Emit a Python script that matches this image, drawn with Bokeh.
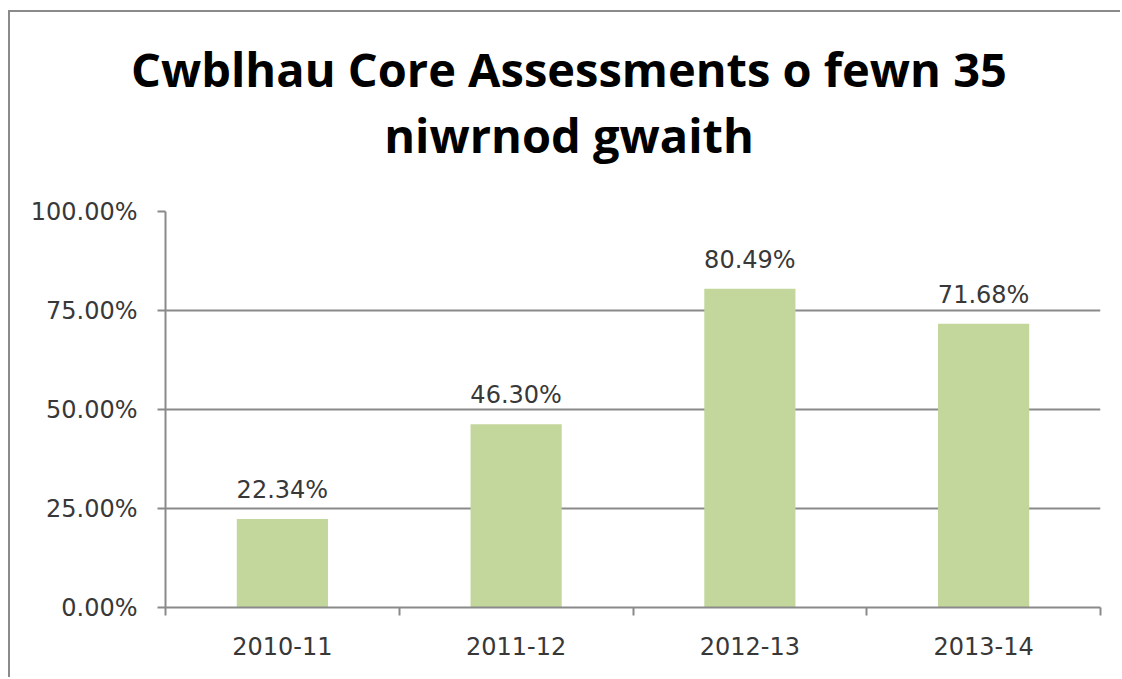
from bokeh.plotting import figure
from bokeh.models import Range1d, FixedTicker, PrintfTickFormatter, ColumnDataSource, Div
from bokeh.layouts import column
from bokeh.core.properties import value
from bokeh.embed import file_html
from bokeh.resources import INLINE
import numpy as np

categories = ["2010-11", "2011-12", "2012-13", "2013-14"]
values = [22.34, 46.30, 80.49, 71.68]
y_ticks = [0, 25, 50, 75, 100]
title_lines = ["Cwblhau Core Assessments o fewn 35", "niwrnod gwaith"]

GRAY = "#8a8a8a"
TXT = "#383838"
W = 1110
TH = 179   # title area height
PH = 486   # plot area height

# ---- title (HTML text, centred on the whole chart) ----
title = Div(
    text=('<div style="font-family:\'Open Sans\';font-weight:bold;font-size:47px;'
          'line-height:66px;text-align:center;color:black;padding-top:24px;padding-left:8px;'
          'width:%dpx;box-sizing:border-box;white-space:nowrap;">' % W
          + "<br>".join(title_lines) + "</div>"),
    width=W, height=TH, margin=0)

# ---- bar chart ----
xs = np.arange(len(categories)) + 0.5
bounds = list(np.arange(len(categories) + 1).astype(float))
src = ColumnDataSource(dict(x=xs, top=values, lab=["%.2f%%" % v for v in values]))

p = figure(width=W, height=PH, output_backend="svg", toolbar_location=None,
           x_range=Range1d(0, len(categories)), y_range=Range1d(0, 100),
           min_border_left=155, min_border_right=20, min_border_top=20, min_border_bottom=70)
p.outline_line_color = None
p.margin = 0

p.vbar(x="x", top="top", width=0.39, source=src, fill_color="#c3d69b", line_color=None)
p.text(x="x", y="top", text="lab", source=src, text_align="center", text_baseline="alphabetic",
       y_offset=-29, text_font=value("DejaVu Sans"), text_font_size="24px", text_color=TXT)

p.xgrid.visible = False
p.ygrid.grid_line_color = GRAY
p.ygrid.grid_line_width = 2
p.ygrid.ticker = FixedTicker(ticks=y_ticks)

ya = p.yaxis[0]
ya.ticker = FixedTicker(ticks=y_ticks)
ya.formatter = PrintfTickFormatter(format="%.2f%%")
ya.axis_line_color = GRAY
ya.axis_line_width = 2
ya.major_tick_line_color = GRAY
ya.major_tick_line_width = 2
ya.major_tick_in = 0
ya.major_tick_out = 8
ya.minor_tick_line_color = None
ya.major_label_standoff = 20
ya.major_label_text_font = "DejaVu Sans"
ya.major_label_text_font_size = "24px"
ya.major_label_text_color = TXT

xa = p.xaxis[0]
xa.ticker = FixedTicker(ticks=list(xs), minor_ticks=bounds)
xa.major_label_overrides = {float(x): c for x, c in zip(xs, categories)}
xa.axis_line_color = GRAY
xa.axis_line_width = 2
xa.major_tick_line_color = None
xa.major_tick_in = 0
xa.major_tick_out = 0
xa.minor_tick_line_color = GRAY
xa.minor_tick_line_width = 2
xa.minor_tick_in = 0
xa.minor_tick_out = 8
xa.major_label_standoff = 21
xa.major_label_text_font = "DejaVu Sans"
xa.major_label_text_font_size = "24px"
xa.major_label_text_color = TXT

layout = column(title, p, spacing=0)
layout.styles = {"margin-left": "8px", "margin-top": "10px",
                 "border-top": "2px solid #8a8a8a", "border-left": "2px solid #8a8a8a"}

open("out.html", "w").write(file_html(layout, INLINE))
